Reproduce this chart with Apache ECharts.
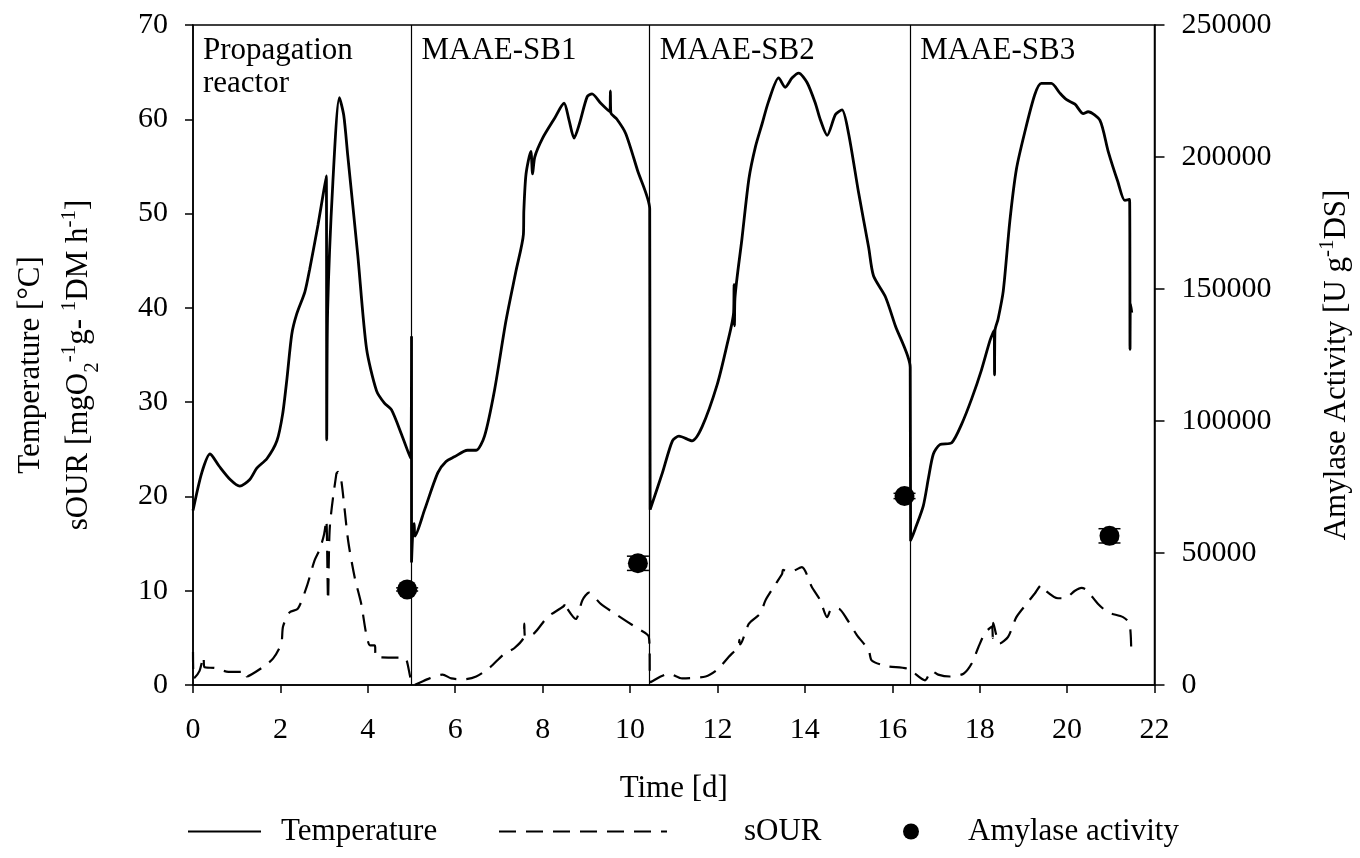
<!DOCTYPE html>
<html>
<head>
<meta charset="utf-8">
<script src="https://cdn.jsdelivr.net/npm/echarts@6/dist/echarts.min.js"></script>
<style>
  html, body { margin: 0; padding: 0; background: #fff; }
  #chart { width: 1360px; height: 858px; }
</style>
</head>
<body>
<div id="chart"></div>
<script>
// temperature [°C] over time [d]
const tempTime = [
  0, 0.2, 0.39, 0.6, 0.85, 1.07, 1.3, 1.46, 1.69, 1.92, 2.05, 2.15, 2.26, 2.37, 2.56, 2.67, 2.86, 3.05, 3.06, 3.08, 3.2, 3.35, 3.45, 3.54, 3.77, 3.97, 4.2, 4.38, 4.54, 4.77, 4.98,
  5.0, 5.0, 5.03, 5.06, 5.08, 5.3, 5.6, 5.79, 5.98, 6.28, 6.48, 6.67, 6.9, 7.16, 7.39, 7.56, 7.57, 7.62, 7.73, 7.77, 7.82, 8.0, 8.26, 8.49, 8.6, 8.72, 8.84, 9.02, 9.13, 9.33, 9.54, 9.55, 9.56, 9.7, 9.9, 10.17, 10.45,
  10.46, 10.74, 10.97, 11.12, 11.42, 11.65, 11.99, 12.22, 12.37, 12.38, 12.39, 12.4, 12.56, 12.72, 12.87, 13.02, 13.17, 13.4, 13.55, 13.71, 13.86, 14.05, 14.24, 14.35, 14.51, 14.7, 14.85, 15.0, 15.23, 15.46, 15.57, 15.84, 16.07, 16.41,
  16.42, 16.52, 16.71, 16.83, 16.94, 17.09, 17.36, 17.59, 17.82, 18.04, 18.24, 18.33, 18.34, 18.35, 18.42, 18.54, 18.69, 18.84, 19.03, 19.26, 19.41, 19.64, 19.83, 19.98, 20.18, 20.37, 20.48, 20.75, 20.94, 21.16, 21.32, 21.43, 21.44, 21.45, 21.48
];
const tempValue = [
  18.5, 22.5, 24.5, 23.2, 21.8, 21.1, 21.8, 23.0, 24.0, 25.9, 28.7, 32.5, 37.2, 39.3, 41.7, 44.1, 48.8, 54.0, 26.0, 39.6, 53.3, 62.3, 60.4, 56.2, 45.6, 35.7, 31.2, 29.9, 29.2, 26.6, 24.0,
  37.0, 13.0, 16.2, 17.1, 15.8, 18.6, 22.5, 23.7, 24.2, 24.9, 24.9, 26.4, 31.3, 38.6, 43.9, 47.8, 50.3, 54.2, 56.6, 54.2, 56.0, 58.0, 60.0, 61.7, 60.0, 58.0, 59.5, 62.4, 62.7, 61.7, 60.8, 63.0, 60.7, 60.0, 58.5, 54.6, 50.5,
  18.6, 22.5, 25.9, 26.4, 25.9, 27.4, 31.8, 36.1, 39.5, 42.5, 38.1, 41.0, 47.3, 53.7, 57.1, 59.5, 61.9, 64.4, 63.4, 64.4, 64.9, 63.9, 61.7, 60.0, 58.3, 60.5, 61.0, 58.5, 52.2, 46.4, 43.4, 41.2, 38.1, 33.7,
  15.3, 16.5, 19.0, 22.0, 24.5, 25.5, 25.7, 27.7, 30.4, 33.4, 36.6, 37.6, 32.9, 37.6, 38.8, 41.8, 49.2, 54.7, 58.6, 62.6, 63.8, 63.8, 62.8, 62.1, 61.6, 60.6, 60.8, 59.9, 56.6, 53.4, 51.4, 51.5, 35.6, 40.5, 39.5
];

// sOUR over time [d]
const ourTime = [
  0, 0.02, 0.15, 0.24, 0.26, 0.5, 0.81, 1.22, 1.23, 1.57, 1.83, 2.02, 2.06, 2.21, 2.4, 2.6, 2.78, 2.9, 3.0, 3.05, 3.09, 3.13, 3.28, 3.32, 3.39, 3.55, 3.7, 3.85, 3.96, 4.05, 4.16, 4.18, 4.69, 4.85,
  5.05, 5.41, 5.71, 5.91, 6.2, 6.48, 6.78, 7.12, 7.35, 7.57, 7.58, 7.6, 7.81, 8.11, 8.49, 8.52, 8.55, 8.76, 8.91, 9.06, 9.33, 9.71, 10.17, 10.43,
  10.47, 10.7, 10.89, 11.19, 11.73, 11.99, 12.26, 12.49, 12.5, 12.52, 12.72, 12.98, 13.1, 13.33, 13.48, 13.5, 13.67, 13.93, 14.16, 14.35, 14.51, 14.6, 14.77, 14.96, 15.19, 15.46, 15.53, 15.87, 16.37,
  16.75, 16.9, 17.05, 17.32, 17.63, 17.82, 17.97, 18.12, 18.28, 18.3, 18.31, 18.46, 18.65, 18.84, 19.07, 19.26, 19.41, 19.46, 19.79, 19.95, 20.18, 20.33, 20.44, 20.71, 20.94, 21.28, 21.43, 21.47
];
const ourValue = [
  3.5, 0.7, 1.5, 3.0, 1.9, 1.8, 1.4, 1.4, 0.9, 1.8, 2.8, 4.4, 6.2, 7.7, 8.1, 10.4, 13.2, 14.4, 16.0, 17.5, 9.0, 16.7, 22.4, 22.6, 21.8, 15.3, 11.4, 8.6, 5.5, 4.2, 4.2, 3.0, 2.9, 2.9,
  0.0, 0.7, 1.1, 0.7, 0.6, 0.9, 1.8, 3.3, 3.9, 5.1, 6.5, 5.1, 5.5, 7.2, 8.4, 8.8, 8.2, 7.0, 9.0, 9.8, 8.6, 7.4, 6.0, 5.1,
  0.3, 0.9, 1.2, 0.7, 0.9, 1.6, 3.0, 4.2, 4.8, 4.3, 6.5, 7.6, 9.0, 10.7, 11.8, 12.2, 12.0, 12.5, 10.4, 9.0, 7.2, 8.0, 8.1, 7.0, 5.3, 3.7, 2.6, 2.0, 1.7,
  0.5, 1.5, 1.1, 0.9, 1.2, 2.3, 4.0, 5.5, 6.2, 5.0, 6.6, 4.4, 5.1, 7.2, 8.6, 9.7, 10.6, 10.2, 9.2, 9.2, 10.0, 10.3, 10.1, 8.6, 7.7, 7.2, 6.5, 3.0
];

// amylase activity [U g-1 DS] with error
const amyTime = [4.9, 10.18, 16.28, 20.97];
const amyValue = [36200, 46100, 71600, 56500];
const amyError = [600, 2700, 1000, 2700];

// phase boundaries and labels
const phaseStart = [0, 5.0, 10.45, 16.41];
const phaseNames = ['Propagation\nreactor', 'MAAE-SB1', 'MAAE-SB2', 'MAAE-SB3'];
const dividers = [5.0, 10.45, 16.41];

const xTicks = { min: 0, max: 22, interval: 2 };
const leftTicks = { min: 0, max: 70, interval: 10 };
const rightTicks = { min: 0, max: 250000, interval: 50000 };

const FONT = 'Liberation Serif';
const FS = 30;   // tick labels
const TS = 31;   // titles, legend, panel labels

const chart = echarts.init(document.getElementById('chart'));

const tickLabel = { fontFamily: FONT, fontSize: FS, color: '#000' };
const noSymbol = { color: 'transparent', borderWidth: 0, opacity: 0 };

const option = {
  animation: false,
  backgroundColor: '#fff',
  grid: {
    left: 193, right: 205, top: 25, bottom: 173,
    show: true, borderColor: '#000', borderWidth: 1.5, backgroundColor: 'transparent'
  },
  legend: [
    {
      data: ['Temperature'], left: 187, top: 816, padding: 0,
      itemWidth: 73, itemHeight: 14, itemStyle: noSymbol,
      textStyle: { fontFamily: FONT, fontSize: TS, color: '#000', padding: [0, 0, 0, 15] }
    },
    {
      data: ['sOUR'], left: 498, top: 816, padding: 0,
      itemWidth: 168, itemHeight: 14, itemStyle: noSymbol,
      textStyle: { fontFamily: FONT, fontSize: TS, color: '#000', padding: [0, 0, 0, 72] }
    },
    {
      data: ['Amylase activity'], left: 903, top: 816, padding: 0,
      itemWidth: 16, itemHeight: 16,
      textStyle: { fontFamily: FONT, fontSize: TS, color: '#000', padding: [0, 0, 0, 44] }
    }
  ],
  xAxis: {
    type: 'value',
    ...xTicks,
    name: 'Time [d]',
    nameLocation: 'middle',
    nameGap: 88,
    nameTextStyle: { fontFamily: FONT, fontSize: TS, color: '#000' },
    axisLine: { show: true, lineStyle: { color: '#000', width: 1.5 } },
    axisTick: { show: true, length: 8, lineStyle: { color: '#000', width: 1.5 } },
    axisLabel: { ...tickLabel, margin: 30 },
    splitLine: { show: false }
  },
  yAxis: [
    {
      type: 'value',
      ...leftTicks,
      position: 'left',
      name: '{a|Temperature [°C]}\n{a|sOUR [mgO}{sub|2}{sup|-1}{a|g- }{sup|1}{a|DM h}{sup|-1}{a|]}',
      nameLocation: 'middle',
      nameRotate: 90,
      nameGap: 90,
      nameTextStyle: {
        fontFamily: FONT, fontSize: TS, color: '#000',
        padding: [0, 20, 0, 0],
        rich: {
          a: { fontFamily: FONT, fontSize: TS, lineHeight: 48, color: '#000' },
          sup: { fontFamily: FONT, fontSize: 21, lineHeight: 21, verticalAlign: 'top', color: '#000', padding: [4, 0, 0, 0] },
          sub: { fontFamily: FONT, fontSize: 21, lineHeight: 21, verticalAlign: 'bottom', color: '#000' }
        }
      },
      axisLine: { show: true, lineStyle: { color: '#000', width: 1.5 } },
      axisTick: { show: true, length: 8, lineStyle: { color: '#000', width: 1.5 } },
      axisLabel: { ...tickLabel, margin: 25 },
      splitLine: { show: false }
    },
    {
      type: 'value',
      ...rightTicks,
      position: 'right',
      name: '{a|Amylase Activity [U g}{sup|-1}{a|DS]}',
      nameLocation: 'middle',
      nameRotate: 90,
      nameGap: 160,
      nameTextStyle: {
        fontFamily: FONT, fontSize: TS, color: '#000',
        padding: [0, 20, 0, 0],
        rich: {
          a: { fontFamily: FONT, fontSize: TS, lineHeight: 44, color: '#000' },
          sup: { fontFamily: FONT, fontSize: 21, lineHeight: 21, verticalAlign: 'top', color: '#000', padding: [2, 0, 0, 0] }
        }
      },
      axisLine: { show: true, lineStyle: { color: '#000', width: 1.5 } },
      axisTick: { show: true, length: 10, lineStyle: { color: '#000', width: 1.5 } },
      axisLabel: { ...tickLabel, margin: 27, formatter: (v) => String(v) },
      splitLine: { show: false }
    }
  ],
  series: [
    {
      name: 'Temperature',
      type: 'line',
      xAxisIndex: 0,
      yAxisIndex: 0,
      data: tempTime.map((t, i) => [t, tempValue[i]]),
      showSymbol: false,
      symbol: 'none',
      smooth: 0.25,
      lineStyle: { color: '#000', width: 2.8, type: 'solid' },
      itemStyle: { color: '#000' },
      markLine: {
        silent: true,
        symbol: 'none',
        label: { show: false },
        lineStyle: { color: '#000', width: 1.2, type: 'solid' },
        data: dividers.map((d) => ({ xAxis: d }))
      },
      z: 3
    },
    {
      name: 'sOUR',
      type: 'line',
      xAxisIndex: 0,
      yAxisIndex: 0,
      data: ourTime.map((t, i) => [t, ourValue[i]]),
      showSymbol: false,
      symbol: 'none',
      smooth: 0.25,
      lineStyle: { color: '#000', width: 2.2, type: [17, 10] },
      itemStyle: { color: '#000' },
      z: 3
    },
    {
      name: 'Amylase error',
      type: 'custom',
      xAxisIndex: 0,
      yAxisIndex: 1,
      data: amyTime.map((t, i) => [t, amyValue[i] - amyError[i], amyValue[i] + amyError[i]]),
      renderItem: (params, api) => {
        const x = api.value(0);
        const lo = api.coord([x, api.value(1)]);
        const hi = api.coord([x, api.value(2)]);
        const w = 11;
        const st = { stroke: '#000', lineWidth: 1.5 };
        return {
          type: 'group',
          children: [
            { type: 'line', shape: { x1: hi[0], y1: hi[1], x2: lo[0], y2: lo[1] }, style: st },
            { type: 'line', shape: { x1: hi[0] - w, y1: hi[1], x2: hi[0] + w, y2: hi[1] }, style: st },
            { type: 'line', shape: { x1: lo[0] - w, y1: lo[1], x2: lo[0] + w, y2: lo[1] }, style: st }
          ]
        };
      },
      z: 4
    },
    {
      name: 'Amylase activity',
      type: 'scatter',
      xAxisIndex: 0,
      yAxisIndex: 1,
      data: amyTime.map((t, i) => [t, amyValue[i]]),
      symbol: 'circle',
      symbolSize: 20,
      itemStyle: { color: '#000', opacity: 1 },
      z: 5
    }
  ]
};

chart.setOption(option);

// phase labels anchored at the top of each phase
chart.setOption({
  graphic: phaseNames.map((name, i) => {
    const p = chart.convertToPixel({ xAxisIndex: 0, yAxisIndex: 0 }, [phaseStart[i], leftTicks.max]);
    return {
      type: 'text',
      x: p[0] + 10,
      y: p[1] + 9,
      silent: true,
      style: {
        text: name,
        fontFamily: FONT,
        fontSize: TS,
        lineHeight: 33,
        fill: '#000',
        verticalAlign: 'top'
      }
    };
  })
});
</script>
</body>
</html>
